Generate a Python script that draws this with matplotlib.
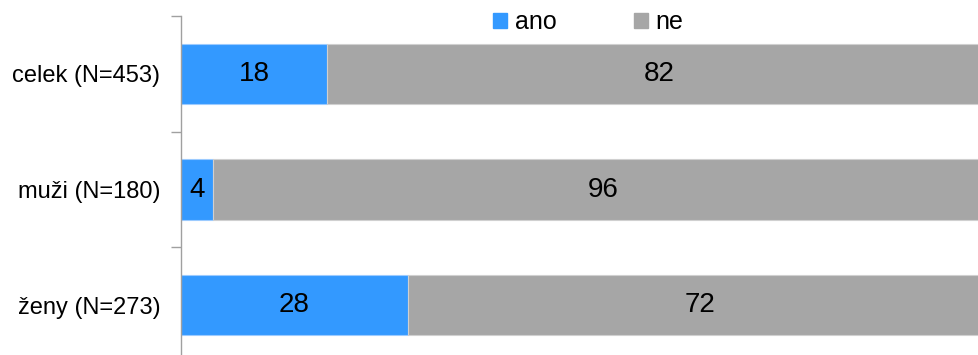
import matplotlib.pyplot as plt
from matplotlib.patches import Patch

plt.rcParams['font.family'] = ['Liberation Sans', 'DejaVu Sans']

categories = ["celek (N=453)", "muži (N=180)", "ženy (N=273)"]
ano = [18, 4, 28]
ne = [82, 96, 72]
labels = ["ano", "ne"]
colors = ["#3399FF", "#A6A6A6"]

fig = plt.figure(figsize=(9.79, 3.55), dpi=100)
ax = fig.add_axes([181 / 979, -8 / 355, 811 / 979, 347 / 355])

y = list(range(len(categories)))
ax.barh(y, ano, height=0.52, color=colors[0], edgecolor="#9CCBFF", linewidth=0.8)
ax.barh(y, ne, left=ano, height=0.52, color=colors[1], edgecolor="#D0D0D0", linewidth=0.8)

for i in y:
    ax.text(ano[i] / 2, i, str(ano[i]), ha="center", va="center", fontsize=20)
    ax.text(ano[i] + ne[i] / 2, i, str(ne[i]), ha="center", va="center", fontsize=20)

ax.set_xlim(0, 100)
ax.set_ylim(2.5, -0.5)
ax.set_yticks(y)
ax.set_yticklabels(categories, fontsize=17)
ax.set_yticks([-0.5, 0.5, 1.5, 2.5], minor=True)
ax.tick_params(axis="y", which="major", length=0, pad=15)
ax.tick_params(axis="y", which="minor", length=7, color="#A0A0A0", width=1)
ax.set_xticks([])
for s in ["top", "right", "bottom"]:
    ax.spines[s].set_visible(False)
ax.spines["left"].set_color("#A0A0A0")
ax.spines["left"].set_linewidth(1)

handles = [Patch(color=c, label=l) for c, l in zip(colors, labels)]
fig.legend(handles=handles, loc="upper left", bbox_to_anchor=(471 / 979, 1.035),
           ncol=2, frameon=False, fontsize=18, handlelength=0.55, handleheight=0.55,
           handletextpad=0.3, columnspacing=3.1)

fig.savefig("out.png", dpi=100)
